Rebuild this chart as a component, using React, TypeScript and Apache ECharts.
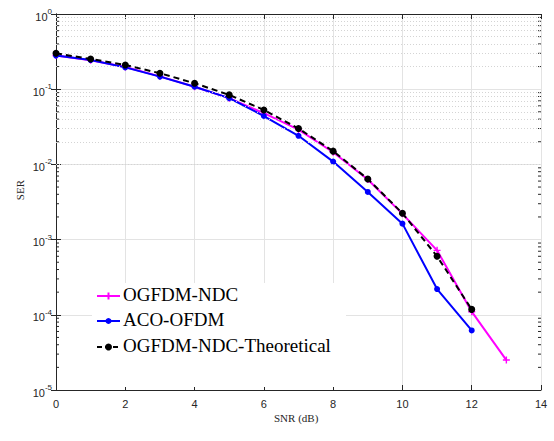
import React, { useEffect, useRef } from "react";
import * as echarts from "echarts";

const snr = [0, 1, 2, 3, 4, 5, 6, 7, 8, 9, 10, 11, 12, 13];
const ogfdmNdc = [0.28, 0.242, 0.197, 0.148, 0.108, 0.076, 0.048, 0.029, 0.0145, 0.0063, 0.0022, 0.00072, 0.00011, 0.000025];
const acoOfdm = [0.28, 0.244, 0.195, 0.147, 0.108, 0.076, 0.044, 0.024, 0.0109, 0.0043, 0.00163, 0.00022, 0.000062];
const theoretical = [0.3, 0.252, 0.21, 0.163, 0.12, 0.084, 0.053, 0.03, 0.015, 0.0064, 0.00224, 0.0006, 0.000118];
const seriesNames = ["OGFDM-NDC", "ACO-OFDM", "OGFDM-NDC-Theoretical"];
const seriesColors = ["#ff00ff", "#0000ff", "#000000"];

const minorValues: number[] = [];
for (let k = -5; k <= -1; k++) {
  for (let m = 2; m <= 9; m++) minorValues.push(Number((m * Math.pow(10, k)).toPrecision(3)));
}

const axisColor = "#262626";
const serif = "Liberation Serif";
const sans = "Liberation Sans";
const plusPath = "path://M4,0H6V4H10V6H6V10H4V6H0V4H4Z";

function legendEntry(i: number, y: number) {
  const color = seriesColors[i];
  const items: any[] = [
    {
      type: "line",
      z: 101,
      shape: { x1: 97, y1: y, x2: 120, y2: y },
      style: i === 2 ? { stroke: color, lineWidth: 2, lineDash: [5, 3] } : { stroke: color, lineWidth: 2 },
    },
  ];
  if (i === 0) {
    items.push(
      { type: "line", z: 102, shape: { x1: 105, y1: y, x2: 112, y2: y }, style: { stroke: color, lineWidth: 2 } },
      { type: "line", z: 102, shape: { x1: 108.5, y1: y - 3.5, x2: 108.5, y2: y + 3.5 }, style: { stroke: color, lineWidth: 2 } }
    );
  } else {
    items.push({ type: "circle", z: 102, shape: { cx: 108.5, cy: y, r: i === 2 ? 3.5 : 3 }, style: { fill: color } });
  }
  items.push({
    type: "text",
    z: 102,
    left: 123,
    top: y - 11,
    style: { text: seriesNames[i], fontFamily: serif, fontSize: 19, fill: "#000" },
  });
  return items;
}

export default function App() {
  const ref = useRef<HTMLDivElement>(null);
  useEffect(() => {
    if (!ref.current) return;
    const chart = echarts.init(ref.current, null, { renderer: "svg" });
    const pair = (arr: number[]) => arr.map((v, i) => [snr[i], v]);
    const yLabel = (v: number) => `{b|10}{s|${Math.round(Math.log10(v))}}`;
    chart.setOption({
      animation: false,
      backgroundColor: "#ffffff",
      grid: { left: 56, right: 13, top: 14, bottom: 51 },
      graphic: [
        { type: "rect", z: 100, shape: { x: 92, y: 283, width: 254, height: 104 }, style: { fill: "#ffffff" } },
        ...legendEntry(0, 296),
        ...legendEntry(1, 321),
        ...legendEntry(2, 347),
        {
          type: "text",
          z: 100,
          left: 274,
          top: 412,
          style: { text: "SNR (dB)", fontFamily: serif, fontSize: 11, fill: axisColor },
        },
        {
          type: "text",
          z: 100,
          left: 14,
          top: 180,
          rotation: Math.PI / 2,
          style: { text: "SER", fontFamily: serif, fontSize: 11, fill: axisColor },
        },
      ],
      xAxis: [
        {
          type: "value",
          min: 0,
          max: 14,
          interval: 2,
          axisLine: { show: true, lineStyle: { color: axisColor, width: 1 } },
          axisTick: { show: true, inside: true, length: 5, lineStyle: { color: axisColor } },
          axisLabel: { color: axisColor, fontFamily: sans, fontSize: 11, margin: 8 },
          splitLine: { show: true, lineStyle: { color: "#e3e3e3", width: 1 } },
        },
        {
          type: "value",
          position: "top",
          min: 0,
          max: 14,
          interval: 2,
          axisLine: { show: true, lineStyle: { color: axisColor, width: 1 } },
          axisTick: { show: true, inside: true, length: 5, lineStyle: { color: axisColor } },
          axisLabel: { show: false },
          splitLine: { show: false },
        },
      ],
      yAxis: [
        {
          type: "log",
          logBase: 10,
          min: 0.00001,
          max: 1,
          interval: 1,
          axisLine: { show: true, lineStyle: { color: axisColor, width: 1 } },
          axisTick: { show: true, inside: true, length: 5, lineStyle: { color: axisColor } },
          axisLabel: {
            formatter: yLabel,
            margin: 4,
            rich: {
              b: { color: axisColor, fontFamily: sans, fontSize: 11, padding: [5, 0, 0, 0] },
              s: { color: axisColor, fontFamily: sans, fontSize: 8, padding: [0, 0, 5, 0] },
            },
          },
          splitLine: { show: true, lineStyle: { color: "#e3e3e3", width: 1 } },
        },
        {
          type: "log",
          logBase: 10,
          position: "right",
          min: 0.00001,
          max: 1,
          interval: 1,
          axisLine: { show: true, lineStyle: { color: axisColor, width: 1 } },
          axisTick: { show: true, inside: true, length: 5, lineStyle: { color: axisColor } },
          axisLabel: { show: false },
          splitLine: { show: false },
        },
      ],
      series: [
        {
          type: "custom",
          silent: true,
          xAxisIndex: 0,
          yAxisIndex: 0,
          data: minorValues.map((v) => [0, v]),
          renderItem: (params: any, api: any) => {
            const v = api.value(1);
            const l = api.coord([0, v]);
            const r = api.coord([14, v]);
            return {
              type: "group",
              children: [
                { type: "line", shape: { x1: l[0], y1: l[1], x2: l[0] + 3, y2: l[1] }, style: { stroke: axisColor, lineWidth: 1 } },
                { type: "line", shape: { x1: r[0], y1: r[1], x2: r[0] - 3, y2: r[1] }, style: { stroke: axisColor, lineWidth: 1 } },
              ],
            };
          },
          markLine: {
            silent: true,
            symbol: "none",
            label: { show: false },
            lineStyle: { color: "#d4d4d4", type: [1, 2], width: 1 },
            data: minorValues.map((v) => ({ yAxis: v })),
          },
          z: 1,
        },
        {
          name: seriesNames[0],
          type: "line",
          data: pair(ogfdmNdc),
          symbol: plusPath,
          symbolSize: 7,
          showAllSymbol: true,
          lineStyle: { color: seriesColors[0], width: 2 },
          itemStyle: { color: seriesColors[0] },
          z: 3,
        },
        {
          name: seriesNames[1],
          type: "line",
          data: pair(acoOfdm),
          symbol: "circle",
          symbolSize: 6,
          lineStyle: { color: seriesColors[1], width: 2 },
          itemStyle: { color: seriesColors[1] },
          z: 4,
        },
        {
          name: seriesNames[2],
          type: "line",
          data: pair(theoretical),
          symbol: "circle",
          symbolSize: 7,
          lineStyle: { color: seriesColors[2], width: 2, type: [6, 4] },
          itemStyle: { color: seriesColors[2] },
          z: 5,
        },
      ],
    });
    return () => chart.dispose();
  }, []);
  return <div ref={ref} style={{ width: 554, height: 441, position: "absolute", left: 0, top: 0 }} />;
}
